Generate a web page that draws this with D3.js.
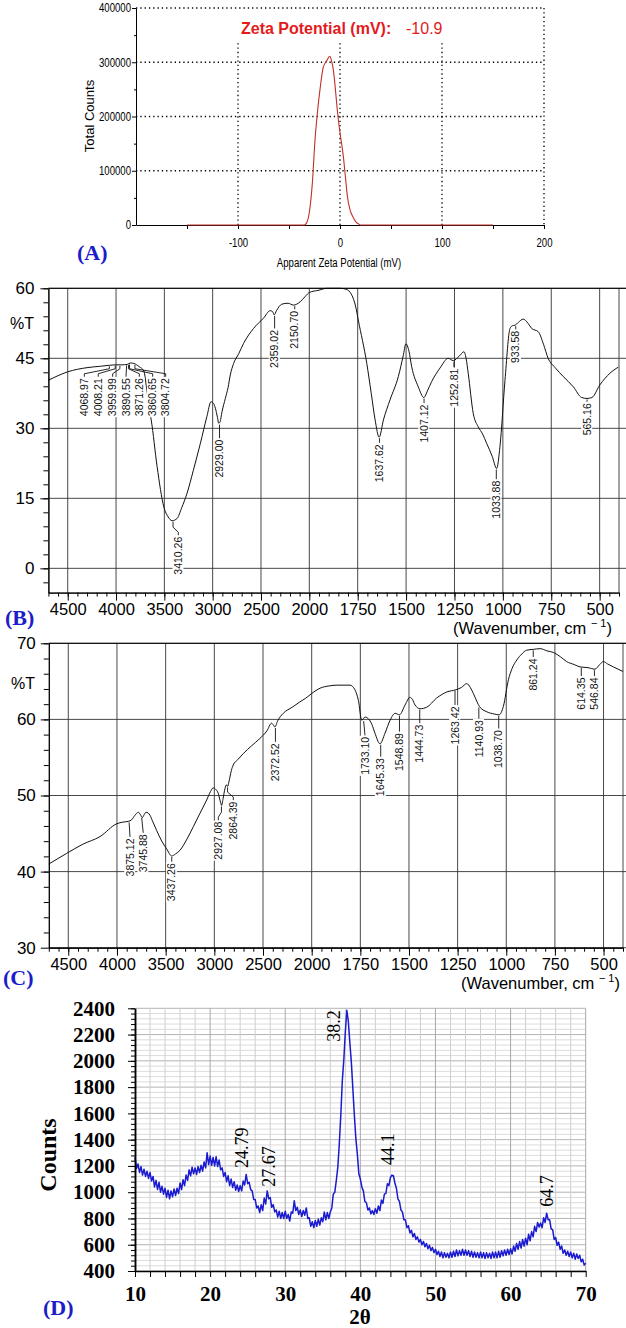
<!DOCTYPE html>
<html>
<head>
<meta charset="utf-8">
<style>
body { margin: 0; background: #fff; }
svg { display: block; }
</style>
</head>
<body>
<div id="container"></div>
<script src="https://cdn.jsdelivr.net/npm/d3@7/dist/d3.min.js"></script>
<script>

// ---------- data ----------

// (A) zeta potential distribution: [apparent zeta potential (mV), total counts]
const zetaCurve = [
  [-150, 0], [-100, 0], [-50, 0], [-35, 0], [-33, 3000], [-30, 24000], [-27, 80000],
  [-24.5, 157000], [-22, 210000], [-19.6, 250000], [-16.5, 290000], [-13, 303000],
  [-10, 311000], [-8, 300000], [-6.6, 287000], [-4.5, 250000], [-2.7, 213000],
  [0, 170000], [3.3, 126000], [5.5, 85000], [7.3, 52000], [10, 27000], [13.2, 13000],
  [16, 5000], [18.3, 2000], [20, 0], [50, 0], [100, 0], [150, 0]
];
const zetaXTicks = [-100, 0, 100, 200];
const zetaYTicks = [0, 100000, 200000, 300000, 400000];
const zetaValue = "-10.9";

// (B) FTIR spectrum: [wavenumber, %T]
const ftirB = [
  [4700, 40.3], [4500, 42.1], [4300, 43.0], [4160, 43.3], [4069, 43.5], [3998, 43.6],
  [3940, 43.6], [3884, 43.7], [3850, 44.0], [3816, 43.9], [3760, 43.2], [3713, 42.3],
  [3680, 38], [3650, 33.5], [3636, 31.8], [3575, 21.8], [3506, 13.2], [3460, 11.0],
  [3420, 10.2], [3368, 10.7], [3320, 13.0], [3265, 16.1], [3200, 21], [3127, 26.8],
  [3060, 32.5], [3017, 35.7], [2990, 35.3], [2972, 34.3], [2950, 32.3], [2938, 31.1],
  [2925, 31.3], [2903, 33.6], [2869, 36.4], [2840, 38.8], [2818, 41.4], [2783, 43.9],
  [2730, 46.0], [2680, 48.2], [2577, 51.4], [2474, 53.6], [2405, 55.2], [2380, 55.0],
  [2363, 54.3], [2340, 55.2], [2284, 56.6], [2220, 56.8], [2164, 56.4], [2095, 57.1],
  [2040, 58.3], [2000, 59.1], [1950, 59.6], [1910, 60.0], [1870, 60.0], [1841, 60.0],
  [1810, 59.8], [1781, 58.6], [1760, 56.0], [1747, 53.2], [1703, 43.9], [1680, 37.5],
  [1660, 31.8], [1639, 28.1], [1617, 31.8], [1583, 36.1], [1540, 41.1], [1515, 45.5],
  [1501, 48.1], [1485, 46.5], [1471, 43.2], [1437, 38.9], [1408, 36.6], [1390, 38.0],
  [1368, 40.0], [1325, 42.9], [1282, 45.0], [1256, 44.5], [1225, 45.5], [1201, 46.4],
  [1190, 45.0], [1179, 41.8], [1153, 33.2], [1127, 30.3], [1105, 28.8], [1084, 26.8],
  [1055, 24.0], [1032, 21.4], [1015, 26.1], [989, 40.3], [963, 51.4], [950, 52.0],
  [937, 52.1], [920, 52.7], [895, 53.4], [870, 52.5], [851, 51.4], [817, 50.7],
  [790, 48.0], [766, 45.0], [730, 43.0], [688, 41.1], [636, 38.9], [593, 36.6],
  [565, 36.4], [540, 36.6], [499, 39.3], [447, 41.8], [404, 43.1]
];
// peak labels: text, peak wavenumber, %T at peak, %T where the label starts, wavenumber of the label
const peaksB = [
  { text: "4068.97", wn: 4068.97, t: 43.5, at: 41.05, tw: 4328 },
  { text: "4008.21", wn: 4008.21, t: 43.6, at: 41.05, tw: 4184 },
  { text: "3959.99", wn: 3959.99, t: 43.6, at: 41.05, tw: 4035 },
  { text: "3890.55", wn: 3890.55, t: 43.7, at: 41.05, tw: 3897 },
  { text: "3871.26", wn: 3871.26, t: 43.8, at: 41.05, tw: 3759 },
  { text: "3860.65", wn: 3860.65, t: 43.9, at: 41.05, tw: 3621 },
  { text: "3804.72", wn: 3804.72, t: 43.8, at: 41.05, tw: 3486 },
  { text: "3410.26", wn: 3410.26, t: 10.2, at: 7.1, tw: 3356 },
  { text: "2929.00", wn: 2929.00, t: 31.0, at: 27.9 },
  { text: "2359.02", wn: 2359.02, t: 54.3, at: 51.4 },
  { text: "2150.70", wn: 2150.70, t: 56.4, at: 55.5 },
  { text: "1637.62", wn: 1637.62, t: 28.1, at: 26.9 },
  { text: "1407.12", wn: 1407.12, t: 36.6, at: 35.4 },
  { text: "1252.81", wn: 1252.81, t: 44.5, at: 43.1 },
  { text: "1033.88", wn: 1033.88, t: 21.4, at: 19.1 },
  { text: "933.58", wn: 933.58, t: 52.1, at: 51.2 },
  { text: "565.16", wn: 565.16, t: 36.4, at: 35.7 }
];

// (C) FTIR spectrum: [wavenumber, %T]
const ftirC = [
  [4700, 41.0], [4516, 42.4], [4350, 43.6], [4174, 44.6], [4000, 46.3], [3940, 46.5],
  [3884, 46.6], [3850, 46.8], [3815, 47.4], [3781, 47.8], [3760, 47.5], [3740, 47.1],
  [3720, 47.5], [3702, 47.8], [3680, 47.7], [3661, 47.4], [3630, 46.5], [3592, 45.4],
  [3540, 44.0], [3490, 43.0], [3438, 42.05], [3400, 42.3], [3353, 42.8], [3280, 44.3],
  [3216, 45.9], [3150, 47.6], [3079, 49.4], [3040, 50.5], [3011, 51.0], [2985, 50.8],
  [2960, 50.3], [2940, 49.3], [2925, 48.7], [2910, 49.6], [2891, 50.9], [2875, 51.4],
  [2863, 51.2], [2850, 51.8], [2840, 52.4], [2825, 53.3], [2806, 54.0], [2760, 54.7],
  [2703, 55.5], [2620, 56.5], [2532, 57.5], [2460, 58.5], [2412, 59.5], [2395, 59.3],
  [2378, 59.0], [2350, 59.8], [2292, 60.8], [2200, 61.6], [2121, 62.3], [2060, 62.8],
  [2000, 63.4], [1957, 64.1], [1910, 64.4], [1871, 64.5], [1803, 64.5], [1778, 63.9],
  [1760, 62.5], [1743, 59.9], [1726, 60.3], [1709, 60.1], [1690, 59.3], [1675, 58.2],
  [1649, 56.8], [1623, 58.2], [1597, 59.9], [1571, 60.8], [1549, 60.6], [1520, 61.9],
  [1495, 62.9], [1482, 62.6], [1469, 61.9], [1443, 61.4], [1409, 61.6], [1358, 62.8],
  [1306, 63.6], [1258, 63.9], [1230, 64.2], [1203, 64.7], [1185, 64.2], [1169, 63.4],
  [1150, 62.3], [1138, 61.7], [1100, 61.0], [1060, 60.7], [1037, 60.6], [1015, 61.7],
  [989, 65.2], [970, 66.7], [946, 67.8], [920, 68.6], [895, 69.1], [861, 69.2],
  [826, 69.3], [790, 69.0], [758, 68.8], [720, 68.2], [690, 67.6], [650, 67.2],
  [621, 66.9], [580, 66.8], [544, 66.6], [520, 67.2], [501, 67.6], [480, 67.3],
  [450, 66.9], [400, 66.3]
];
const peaksC = [
  { text: "3875.12", wn: 3875.12, t: 46.6, at: 44.55, tw: 3866 },
  { text: "3745.88", wn: 3745.88, t: 47.2, at: 45.1, tw: 3730 },
  { text: "3437.26", wn: 3437.26, t: 42.05, at: 41.3 },
  { text: "2927.08", wn: 2927.08, t: 48.7, at: 46.75, tw: 2959 },
  { text: "2864.39", wn: 2864.39, t: 51.2, at: 49.4, tw: 2805 },
  { text: "2372.52", wn: 2372.52, t: 59.0, at: 57.05 },
  { text: "1733.10", wn: 1733.10, t: 59.9, at: 57.9, tw: 1726 },
  { text: "1645.33", wn: 1645.33, t: 56.8, at: 55.1 },
  { text: "1548.89", wn: 1548.89, t: 60.6, at: 58.4 },
  { text: "1444.73", wn: 1444.73, t: 61.4, at: 59.5 },
  { text: "1263.42", wn: 1263.42, t: 63.9, at: 61.9 },
  { text: "1140.93", wn: 1140.93, t: 61.7, at: 60.1 },
  { text: "1038.70", wn: 1038.70, t: 60.6, at: 58.8 },
  { text: "861.24", wn: 861.24, t: 69.2, at: 68.2 },
  { text: "614.35", wn: 614.35, t: 66.9, at: 65.7 },
  { text: "546.84", wn: 546.84, t: 66.6, at: 65.7 }
];
const wnTicks = [4500, 4000, 3500, 3000, 2500, 2000, 1750, 1500, 1250, 1000, 750, 500];
const wnBreaks = [4700, 2000, 400];
const yTicksB = [0, 15, 30, 45, 60];
const yTicksC = [30, 40, 50, 60, 70];

// (D) XRD pattern: counts every 0.2 degree from 10 to 70 (2-theta)
const xrdStart = 10, xrdStep = 0.2;
const xrdCounts = [
  1265, 1180, 1215, 1150, 1195, 1130, 1175, 1120, 1160, 1105,
  1150, 1085, 1120, 1040, 1090, 1020, 1075, 1000, 1045, 985,
  1030, 960, 1015, 950, 1010, 965, 1025, 975, 1030, 990,
  1070, 1020, 1095, 1050, 1130, 1090, 1170, 1125, 1190, 1140,
  1185, 1135, 1195, 1150, 1205, 1160, 1230, 1185, 1300, 1210,
  1275, 1205, 1265, 1200, 1270, 1195, 1245, 1170, 1185, 1120,
  1150, 1080, 1125, 1050, 1100, 1035, 1080, 1015, 1055, 1005,
  1050, 1010, 1085, 1055, 1135, 1065, 1075, 1020, 1010, 945,
  945, 880, 895, 845, 905, 860, 955, 910, 1010, 950,
  960, 885, 905, 850, 865, 810, 855, 800, 845, 800,
  855, 800, 830, 780, 850, 840, 935, 860, 885, 830,
  865, 815, 860, 825, 880, 800, 805, 740, 775, 730,
  785, 740, 795, 750, 805, 775, 850, 790, 845, 800,
  850, 880, 985, 1000, 1090, 1190, 1370, 1590, 1850, 2010,
  2220, 2385, 2300, 2140, 1990, 1790, 1590, 1410, 1290, 1140,
  1100, 1040, 1010, 930, 920, 865, 880, 835, 860, 830,
  875, 840, 895, 860, 940, 915, 985, 990, 1065, 1050,
  1110, 1130, 1125, 1070, 1030, 950, 930, 865, 850, 790,
  790, 730, 745, 690, 710, 660, 685, 640, 660, 620,
  640, 600, 625, 585, 610, 570, 595, 555, 580, 540,
  565, 525, 550, 510, 545, 500, 540, 505, 535, 500,
  545, 505, 550, 510, 560, 515, 555, 520, 565, 520,
  560, 520, 555, 510, 550, 505, 545, 505, 540, 500,
  545, 500, 540, 495, 540, 500, 535, 495, 545, 500,
  545, 500, 550, 505, 555, 515, 560, 520, 565, 525,
  570, 530, 590, 550, 610, 565, 625, 575, 640, 590,
  650, 600, 680, 630, 700, 660, 740, 700, 770, 735,
  765, 730, 805, 770, 840, 790, 790, 720, 715, 640,
  655, 595, 620, 565, 590, 535, 560, 520, 550, 510,
  545, 500, 535, 490, 530, 495, 520, 470, 490, 445,
  460
];
// peak labels: text, 2-theta and counts where the label starts
const peaksD = [
  { text: "24.79", t: 24.2, c: 1184 },
  { text: "27.67", t: 27.75, c: 1042 },
  { text: "38.2", t: 36.4, c: 2146 },
  { text: "44.1", t: 43.7, c: 1207 },
  { text: "64.7", t: 64.8, c: 890 }
];
const xrdXTicks = [10, 20, 30, 40, 50, 60, 70];
const xrdYTicks = [400, 600, 800, 1000, 1200, 1400, 1600, 1800, 2000, 2200, 2400];

const panelLetters = ["(A)", "(B)", "(C)", "(D)"];

// ---------- drawing ----------

const width = 626;
const height = 1328;
const sans = "'Liberation Sans', Arial, sans-serif";
const serif = "'Liberation Serif', 'Times New Roman', serif";
const letterBlue = "#1c1cc8";

const svg = d3.create("svg")
    .attr("width", width)
    .attr("height", height)
    .attr("font-family", sans);

svg.append("rect").attr("width", width).attr("height", height).attr("fill", "#fff");
container.append(svg.node());

// squeeze text horizontally to mimic a narrow typeface
function condense(sel, k) {
    sel.each(function () {
        const len = this.getComputedTextLength();
        if (len > 0) d3.select(this).attr("textLength", len * k).attr("lengthAdjust", "spacingAndGlyphs");
    });
}

/*** PANEL A: ZETA POTENTIAL ***/

const xA = d3.scaleLinear().domain([-200, 200]).range([136, 544]);
const yA = d3.scaleLinear().domain([0, 400000]).range([225, 8]);
const gA = svg.append("g");

// dotted grid
gA.selectAll(null).data(zetaYTicks.filter(d => d > 0)).join("line")
    .attr("x1", xA(-200)).attr("x2", xA(200))
    .attr("y1", d => yA(d)).attr("y2", d => yA(d))
    .attr("stroke", "#000").attr("stroke-width", 1.3).attr("stroke-dasharray", "1.3,3");
gA.selectAll(null).data(zetaXTicks).join("line")
    .attr("x1", d => xA(d)).attr("x2", d => xA(d))
    .attr("y1", d => d === 200 ? yA(400000) : yA(335000)).attr("y2", yA(0))
    .attr("stroke", "#000").attr("stroke-width", 1.3).attr("stroke-dasharray", "1.3,3");

// axes
gA.append("g")
    .attr("transform", `translate(0,${yA(0)})`)
    .call(d3.axisBottom(xA).tickValues(d3.range(-150, 201, 50)).tickSize(4).tickSizeOuter(0)
        .tickPadding(9).tickFormat(d => zetaXTicks.includes(d) ? d : ""))
    .attr("font-family", sans).attr("font-size", 12)
    .call(g => condense(g.selectAll("text"), 0.8));
gA.append("g")
    .attr("transform", `translate(${xA(-200)},0)`)
    .call(d3.axisLeft(yA).tickValues(d3.range(0, 400001, 50000)).tickSize(4).tickSizeOuter(0)
        .tickPadding(1).tickFormat(d => zetaYTicks.includes(d) ? d : ""))
    .attr("font-family", sans).attr("font-size", 12)
    .call(g => g.selectAll(".tick line").filter(d => !zetaYTicks.includes(d)).attr("x2", -2))
    .call(g => condense(g.selectAll("text"), 0.8));

// curve
gA.append("path")
    .datum(zetaCurve)
    .attr("fill", "none")
    .attr("stroke", "#c0302a")
    .attr("stroke-width", 1.1)
    .attr("d", d3.line().x(d => xA(d[0])).y(d => yA(d[1])).curve(d3.curveMonotoneX));

// titles
gA.append("text").attr("x", 241).attr("y", 34).attr("fill", "#e41a1c")
    .attr("font-size", 16).attr("font-weight", "bold").text("Zeta Potential (mV):");
gA.append("text").attr("x", 406).attr("y", 34).attr("fill", "#e41a1c")
    .attr("font-size", 16).text(zetaValue);
gA.append("text").attr("transform", "translate(89,116) rotate(-90)")
    .attr("text-anchor", "middle").attr("dy", "0.35em").attr("font-size", 13).text("Total Counts");
gA.append("text").attr("x", 339).attr("y", 267).attr("text-anchor", "middle")
    .attr("font-size", 12).text("Apparent Zeta Potential (mV)")
    .call(t => condense(t, 0.8));

/*** PANELS B AND C: FTIR ***/

function ftirPanel(o) {
    const x = d3.scaleLinear().domain(wnBreaks).range(o.xRange);
    const y = d3.scaleLinear().domain(o.yDomain).range(o.yRange);
    const g = svg.append("g");
    const left = x(wnBreaks[0]), right = x(wnBreaks[2]);
    const top = y(o.yDomain[1]), bottom = y(o.yDomain[0]);
    const ink = "#333";

    // grid
    g.selectAll(null).data(wnTicks).join("line")
        .attr("x1", d => x(d)).attr("x2", d => x(d)).attr("y1", top).attr("y2", bottom)
        .attr("stroke", ink).attr("stroke-width", 0.9);
    g.selectAll(null).data(o.yTicks).join("line")
        .attr("x1", left).attr("x2", width).attr("y1", d => y(d)).attr("y2", d => y(d))
        .attr("stroke", ink).attr("stroke-width", 0.9);
    g.append("line").attr("x1", right).attr("x2", right).attr("y1", top).attr("y2", bottom)
        .attr("stroke", ink).attr("stroke-width", 0.9);

    // spectrum
    g.append("path")
        .datum(o.data)
        .attr("fill", "none")
        .attr("stroke", "#111")
        .attr("stroke-width", 1)
        .attr("d", d3.line().x(d => x(d[0])).y(d => y(Math.min(d[1], o.yDomain[1]))).curve(d3.curveMonotoneX));

    // peak labels with white backing
    o.peaks.forEach(p => {
        const tx = x(p.tw ?? p.wn), ty = y(p.at);
        const lg = g.append("g").attr("transform", `translate(${tx},${ty + 1.5}) rotate(-90)`);
        const bg = lg.append("rect").attr("fill", "#fff");
        const t = lg.append("text").attr("text-anchor", "end").attr("dy", "0.35em")
            .attr("font-size", 10.5).attr("fill", "#111").text(p.text);
        const bb = t.node().getBBox();
        bg.attr("x", bb.x - 1).attr("y", bb.y + 0.5).attr("width", bb.width + 2).attr("height", bb.height - 1);
    });
    o.peaks.forEach(p => {
        const px = x(p.wn), cy = y(p.t);
        const tx = x(p.tw ?? p.wn), ty = y(p.at);
        const pts = Math.abs(tx - px) < 3
            ? [[px, cy + 1], [tx, ty]]
            : [[px, cy + 1], [px, Math.max(cy + 2, ty - 8)], [tx, ty - 3], [tx, ty]];
        g.append("path").attr("d", d3.line()(pts))
            .attr("fill", "none").attr("stroke", "#111").attr("stroke-width", 0.9);
    });

    // axes
    const minor = d3.range(4700, 2000, -100).concat(d3.range(2000, 399, -50));
    g.append("g").attr("transform", `translate(0,${bottom})`)
        .call(d3.axisBottom(x).tickValues(minor).tickSize(4).tickSizeOuter(0).tickFormat(""));
    g.append("g").attr("transform", `translate(0,${bottom})`)
        .call(d3.axisBottom(x).tickValues(wnTicks).tickSize(8).tickSizeOuter(0).tickPadding(3)
            .tickFormat(d3.format("d")))
        .attr("font-family", sans).attr("font-size", 16.5);
    g.append("g").attr("transform", `translate(${left},0)`)
        .call(d3.axisLeft(y).tickValues(d3.range(o.yTicks[o.yTicks.length - 1], o.yDomain[0], -o.yMinor))
            .tickSize(5).tickSizeOuter(0).tickFormat(""));
    g.append("g").attr("transform", `translate(${left},0)`)
        .call(d3.axisLeft(y).tickValues(o.yTicks).tickSize(8).tickSizeOuter(0).tickPadding(o.yPad))
        .attr("font-family", sans).attr("font-size", 17);
    g.append("line").attr("x1", left).attr("x2", width).attr("y1", top).attr("y2", top)
        .attr("stroke", "#000").attr("stroke-width", 1);
    g.selectAll(".domain").attr("stroke", "#000");

    g.append("text").attr("x", o.pctX).attr("y", top + o.pctDy).attr("font-size", 16).text("%T");
    const wt = g.append("text").attr("x", o.waveRight).attr("y", bottom + 41.5)
        .attr("text-anchor", "end").attr("font-size", 16.5);
    wt.append("tspan").text("(Wavenumber, cm ");
    wt.append("tspan").attr("font-size", 11).attr("dy", -7).text("\u2212 1");
    wt.append("tspan").attr("dy", 7).text(")");
}

ftirPanel({
    data: ftirB, peaks: peaksB, yTicks: yTicksB, yMinor: 3,
    xRange: [48.4, 309.3, 619], yDomain: [-5.2, 60], yRange: [592.6, 288.3],
    yPad: 6, pctX: 10, pctDy: 41, waveRight: 612
});
ftirPanel({
    data: ftirC, peaks: peaksC, yTicks: yTicksC, yMinor: 2,
    xRange: [48.8, 311.7, 623], yDomain: [30, 70], yRange: [947.7, 643.3],
    yPad: 5, pctX: 11, pctDy: 46, waveRight: 620
});

/*** PANEL D: XRD ***/

const xD = d3.scaleLinear().domain([10, 70]).range([135, 585.7]);
const yD = d3.scaleLinear().domain([400, 2400]).range([1271, 1008.3]);
const gD = svg.append("g");

gD.selectAll(null).data(d3.range(400, 2401, 40)).join("line")
    .attr("x1", xD(10)).attr("x2", xD(70)).attr("y1", d => yD(d)).attr("y2", d => yD(d))
    .attr("stroke", d => d % 200 === 0 ? "#b4b4b4" : "#dcdcdc").attr("stroke-width", 1);
gD.selectAll(null).data(d3.range(12, 71, 2)).join("line")
    .attr("x1", d => xD(d)).attr("x2", d => xD(d)).attr("y1", yD(2400)).attr("y2", yD(400))
    .attr("stroke", d => d % 10 === 0 ? "#a8a8a8" : "#cfcfcf").attr("stroke-width", 1);

const xrd = xrdCounts.map((c, i) => [xrdStart + i * xrdStep, c]);
gD.append("path")
    .datum(xrd)
    .attr("fill", "none")
    .attr("stroke", "#1a1ad0")
    .attr("stroke-width", 1.5)
    .attr("stroke-linejoin", "round")
    .attr("d", d3.line().x(d => xD(d[0])).y(d => yD(d[1])));

gD.append("g").attr("transform", `translate(0,${yD(400)})`)
    .call(d3.axisBottom(xD).tickValues(d3.range(10, 71, 2)).tickSize(6).tickSizeOuter(0)
        .tickPadding(9).tickFormat(d => xrdXTicks.includes(d) ? d : ""))
    .attr("font-family", serif).attr("font-size", 21).attr("font-weight", "bold");
gD.append("g").attr("transform", `translate(${xD(10)},0)`)
    .call(d3.axisLeft(yD).tickValues(d3.range(400, 2401, 40)).tickSize(4).tickSizeOuter(0).tickFormat(""));
gD.append("g").attr("transform", `translate(${xD(10)},0)`)
    .call(d3.axisLeft(yD).tickValues(xrdYTicks).tickSize(7).tickSizeOuter(0).tickPadding(13)
        .tickFormat(d3.format("d")))
    .attr("font-family", serif).attr("font-size", 21).attr("font-weight", "bold");
gD.selectAll(".domain").attr("stroke-width", 1.5);

gD.selectAll(null).data(peaksD).join("text")
    .attr("transform", d => `translate(${xD(d.t)},${yD(d.c)}) rotate(-90)`)
    .attr("dy", "0.35em")
    .attr("font-family", serif).attr("font-size", 18)
    .text(d => d.text);

gD.append("text").attr("transform", "translate(48,1155) rotate(-90)")
    .attr("text-anchor", "middle").attr("dy", "0.35em")
    .attr("font-family", serif).attr("font-weight", "bold").attr("font-size", 24).text("Counts");
gD.append("text").attr("x", 360).attr("y", 1324).attr("text-anchor", "middle")
    .attr("font-family", serif).attr("font-weight", "bold").attr("font-size", 21).text("2\u03B8");

/*** PANEL LETTERS ***/

const letterPos = [[77, 260], [5, 625], [3, 985], [43, 1315]];
svg.selectAll(null).data(panelLetters).join("text")
    .attr("x", (d, i) => letterPos[i][0]).attr("y", (d, i) => letterPos[i][1])
    .attr("font-family", serif).attr("font-weight", "bold").attr("font-size", 22)
    .attr("fill", letterBlue)
    .text(d => d);
</script>
</body>
</html>
